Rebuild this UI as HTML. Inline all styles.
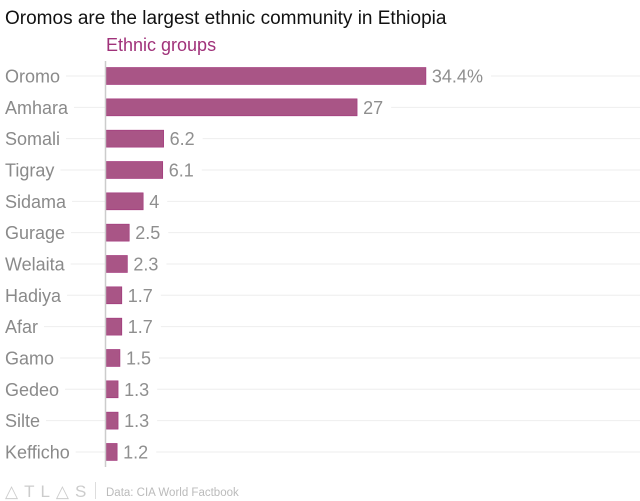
<!DOCTYPE html>
<html><head><meta charset="utf-8"><style>
body{margin:0;background:#fff;font-family:"Liberation Sans",sans-serif}
svg{display:block}
</style></head><body>
<svg width="640" height="501" id="c">
<text x="5" y="24" font-size="19" fill="#111">Oromos are the largest ethnic community in Ethiopia</text>
<text x="106" y="51" font-size="18" fill="#a0327a">Ethnic groups</text>
<g id="rows"></g>
<line x1="105.5" y1="61" x2="105.5" y2="467" stroke="#ccc" stroke-width="1.5"/>
<text x="5" y="497" font-size="17" fill="#ccc" letter-spacing="6">△TL△S</text>
<line x1="95.5" y1="482" x2="95.5" y2="499" stroke="#ddd"/>
<text x="106" y="496" font-size="11.5" fill="#bbb">Data: CIA World Factbook</text>
</svg>
<script>
const categories=["Oromo","Amhara","Somali","Tigray","Sidama","Gurage","Welaita","Hadiya","Afar","Gamo","Gedeo","Silte","Keffficho"];
const values=[34.4,27,6.2,6.1,4,2.5,2.3,1.7,1.7,1.5,1.3,1.3,1.2];
const valueLabels=["34.4%","27","6.2","6.1","4","2.5","2.3","1.7","1.7","1.5","1.3","1.3","1.2"];
const NS="http://www.w3.org/2000/svg";
const x=v=>106+v*9.3;
const y=i=>76+i*31.33;
const g=document.getElementById('rows');
function mk(t,a){const e=document.createElementNS(NS,t);for(const k in a)e.setAttribute(k,a[k]);g.appendChild(e);return e;}
categories.forEach((c,i)=>{
  const cy=y(i);
  const lab=mk('text',{x:5,y:cy+6.5,'font-size':18,fill:'#8a8a8a'});
  lab.textContent=c==="Keffficho"?"Kefficho":c;
  
  
  const lw=lab.getComputedTextLength();
  const g1=mk('line',{x1:5+lw+6,x2:105,y1:cy,y2:cy,stroke:'#eee'});
  
  
  const b=mk('rect',{x:106,y:cy-8.5,width:x(values[i])-106,height:17,fill:'#a95586',stroke:'#a0327a','stroke-width':0.6});
  
  
  const v=mk('text',{x:x(values[i])+6,y:cy+6.5,'font-size':18,fill:'#8f8f8f'});
  v.textContent=valueLabels[i];
  
  
  const vw=v.getComputedTextLength();
  const g2=mk('line',{x1:x(values[i])+6+vw+8,x2:640,y1:cy,y2:cy,stroke:'#eee'});
  
  
});
</script>
</body></html>
